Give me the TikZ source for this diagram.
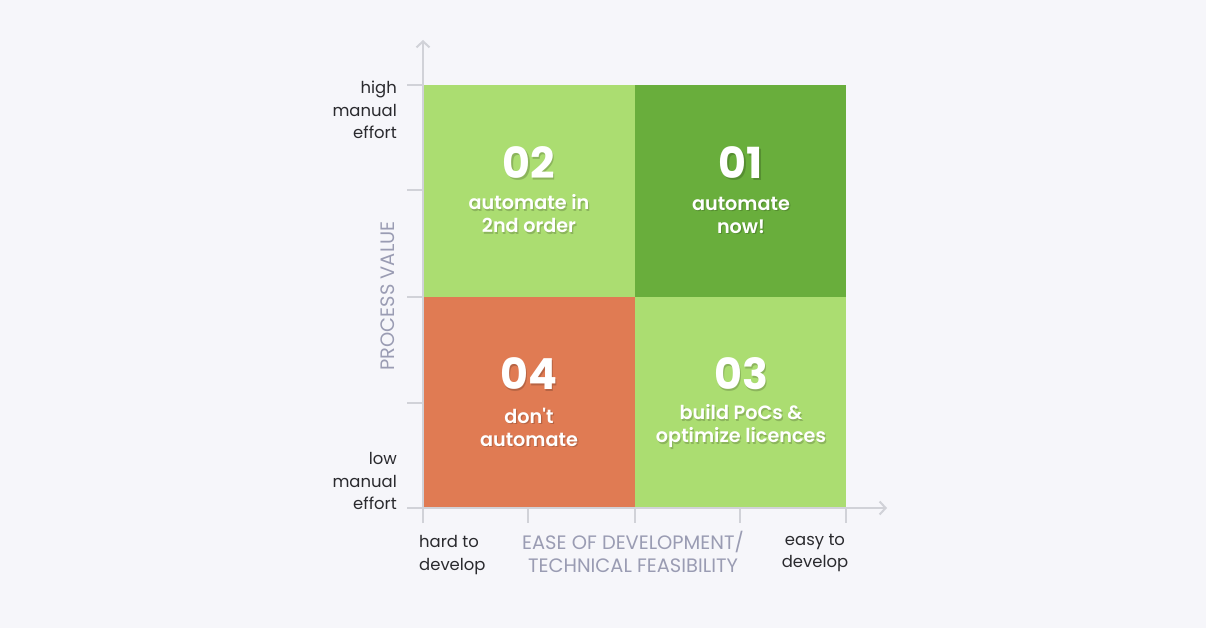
\documentclass[tikz,border=0pt]{standalone}
\usepackage{fontspec}
\setmainfont{Poppins}
\newfontfamily\semib{Poppins}[UprightFont=* SemiBold, BoldFont=* Bold]
\usetikzlibrary{arrows.meta,calc}
\definecolor{bg}{HTML}{F6F6FA}
\definecolor{lgreen}{HTML}{ABDD71}
\definecolor{dgreen}{HTML}{69AE3C}
\definecolor{orng}{HTML}{E07B53}
\definecolor{axisc}{HTML}{D1D2D8}
\definecolor{labc}{HTML}{2A2A2E}
\definecolor{titc}{HTML}{9A9CB3}
\tikzset{
  quad/.style={draw=none, inner sep=0pt, anchor=north west},
  axis/.style={draw=axisc, line width=2bp},
  arr/.style={axis, -{Straight Barb[length=6bp,width=13bp,line width=2bp]}},
  tick/.style={axis},
  lab/.style={inner sep=0pt, text=labc, font=\fontsize{16.5}{22.5}\selectfont},
  tit/.style={inner sep=0pt, text=titc, font=\fontsize{19.5}{23}\selectfont},
  num/.style={inner sep=0pt, text=white, font=\fontsize{43}{46}\selectfont\bfseries},
  qtxt/.style={inner sep=0pt, text=white, align=center, font=\fontsize{19.3}{23}\selectfont\semib},
  shd/.style={text=black, opacity=0.18}
}
\newcommand{\shtext}[4]{% name, pos, style, text
  \node[#3, shd] at ($#2+(1.2,1.8)$) {#4};
  \node[#3] (#1) at #2 {#4};
}
\begin{document}
\begin{tikzpicture}[x=1bp,y=-1bp]
\fill[bg] (0,0) rectangle (1206,628);
\useasboundingbox (0,0) rectangle (1206,628);
% quadrants
\node[quad, fill=lgreen, minimum width=212bp, minimum height=212bp] (q2) at (423,85) {};
\node[quad, fill=dgreen, minimum width=211bp, minimum height=212bp] (q1) at (635,85) {};
\node[quad, fill=orng, minimum width=212bp, minimum height=211bp] (q4) at (423,297) {};
\node[quad, fill=lgreen, minimum width=211bp, minimum height=211bp] (q3) at (635,297) {};
% axes
\coordinate (ytop) at (423,40);
\coordinate (xend) at (887,508);
\coordinate (ybot) at (423,523);
\coordinate (xbeg) at (407,508);
\draw[arr] (ybot) -- (ytop);
\draw[arr] (xbeg) -- (xend);
\foreach \y in {85,190,297,403} \draw[tick] (407,\y) -- (423,\y);
\foreach \x in {528,635,740,846} \draw[tick] (\x,508) -- (\x,523);
% axis labels
\node[lab, align=right, anchor=east] (hi) at (397,110) {high\\manual\\effort};
\node[lab, align=right, anchor=east] (lo) at (397,481) {low\\manual\\effort};
\node[lab, align=left, anchor=west] (hard) at (419,555) {hard to\\develop};
\node[lab, align=center] (easy) at (815,553) {easy to\\develop};
\node[tit, align=center] (xt) at (633,552) {EASE OF DEVELOPMENT/\\TECHNICAL FEASIBILITY};
\node[tit, rotate=90] (yt) at (388,296) {PROCESS VALUE};
% quadrant texts
\shtext{n2}{(529,163)}{num}{02}
\shtext{t2}{(529,214)}{qtxt}{automate in\\2nd order}
\shtext{n1}{(741,163)}{num}{01}
\shtext{t1}{(741,215)}{qtxt}{automate\\now!}
\shtext{n4}{(529,374)}{num}{04}
\shtext{t4}{(529,427)}{qtxt}{don't\\automate}
\shtext{n3}{(741,374)}{num}{03}
\shtext{t3}{(741,426)}{qtxt}{build PoCs \&\\optimize licences}
\end{tikzpicture}
\end{document}
